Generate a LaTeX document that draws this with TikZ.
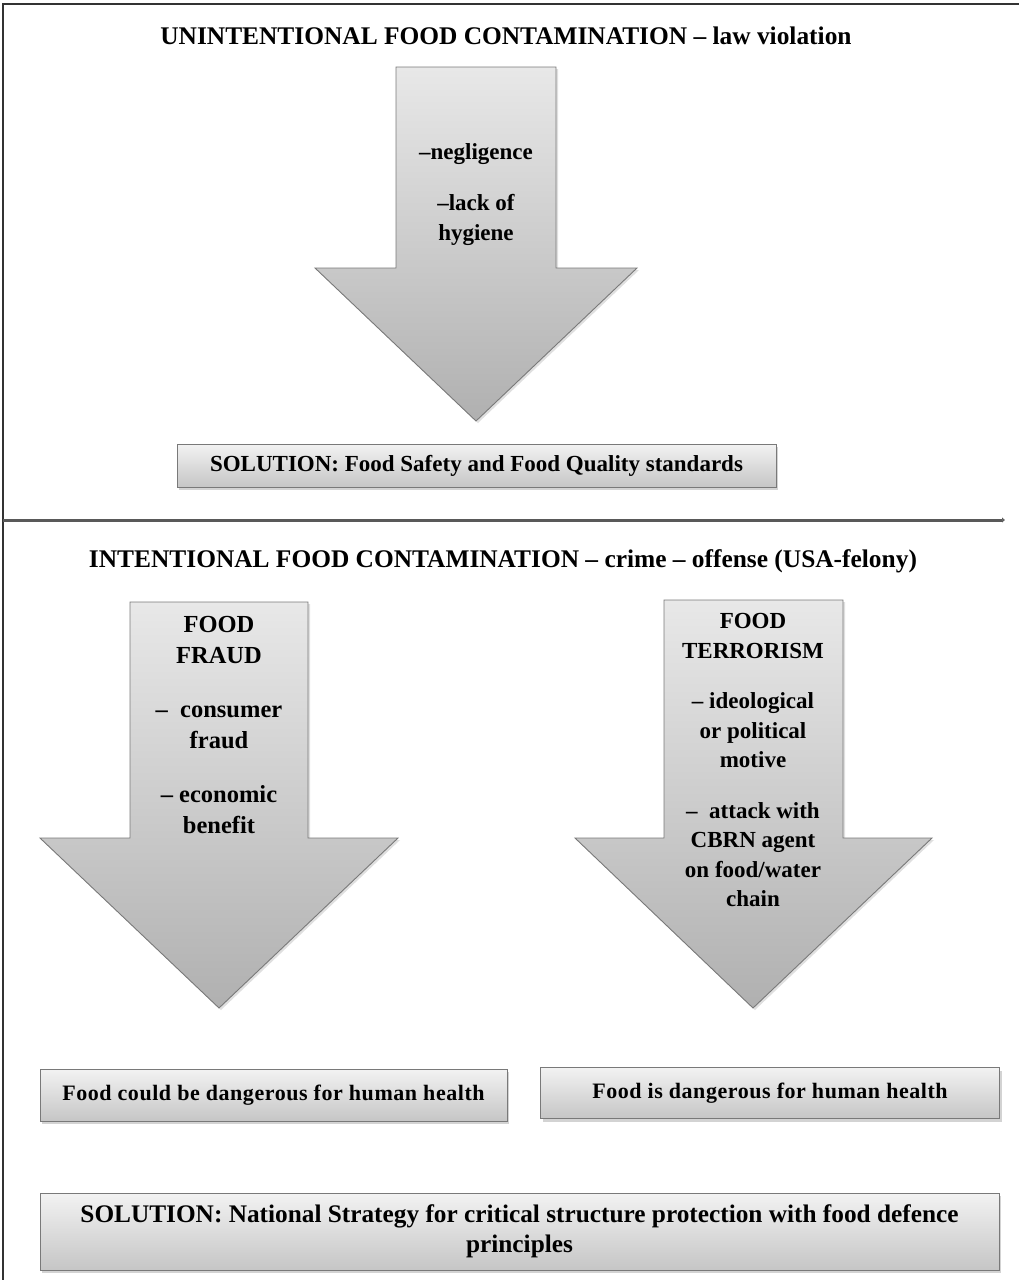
\documentclass[tikz,border=0pt]{standalone}
\usepackage{fontspec}
\setmainfont{Liberation Serif}
\usetikzlibrary{shadows,arrows.meta}
\begin{document}
\begin{tikzpicture}[x=1pt,y=-1pt,
    bigarrow/.style={draw=gray!95!black,line width=0.9pt,top color=gray!18,bottom color=gray!62,
      drop shadow={opacity=0.25,shadow xshift=2pt,shadow yshift=-2pt}},
    infobox/.style={draw=gray!95!black,line width=0.9pt,top color=gray!10,bottom color=gray!45,
      inner sep=0pt,align=center,font=\bfseries\fontsize{22}{30}\selectfont\addfontfeatures{LetterSpace=2.5},
      drop shadow={opacity=0.35,shadow xshift=2pt,shadow yshift=-3pt}},
    headline/.style={font=\bfseries\fontsize{25.4}{30}\selectfont},
    arrowtext/.style={align=center,font=\bfseries\fontsize{23}{30}\selectfont}]
  \useasboundingbox (0,0) rectangle (1019,1280);
  \draw[line width=1.5pt,black!80] (3,1280) -- (3,4) -- (1019,4);
  \coordinate (sepL) at (3,520);
  \coordinate (sepR) at (1005,520);
  \draw[line width=3pt,black!65,-{Latex[length=3pt,width=6pt]}] (sepL) -- (sepR);

  \node[headline] (unint) at (506,36) {UNINTENTIONAL FOOD CONTAMINATION – law violation};
  \draw[bigarrow] (396,67) -- (556,67) -- (556,268) -- (637,268) -- (476,421)
    -- (315,268) -- (396,268) -- cycle;
  \node[arrowtext] (negl) at (476,195) {–negligence\\[21pt]–lack of\\hygiene};
  \node[infobox,minimum width=599pt,minimum height=43pt,font=\bfseries\fontsize{23}{30}\selectfont]
    (safety) at (476.5,465.5) {SOLUTION: Food Safety and Food Quality standards};

  \node[headline] (inten) at (503,561) {INTENTIONAL FOOD CONTAMINATION – crime – offense (USA-felony)};
  \draw[bigarrow] (130,602) -- (308,602) -- (308,838) -- (398,838) -- (219,1008)
    -- (40,838) -- (130,838) -- cycle;
  \node[arrowtext,font=\bfseries\fontsize{24.5}{31}\selectfont] (fraud) at (219,725)
    {FOOD\\FRAUD\\[23pt]–\enspace consumer\\fraud\\[23pt]– economic\\benefit};
  \draw[bigarrow] (664,600) -- (843,600) -- (843,838) -- (932,838) -- (753,1008)
    -- (575,838) -- (664,838) -- cycle;
  \node[arrowtext,font=\bfseries\fontsize{23}{29.5}\selectfont] (terror) at (753,760)
    {FOOD\\TERRORISM\\[21pt]– ideological\\or political\\motive\\[21pt]–\enspace attack with\\CBRN agent\\on food/water\\chain};

  \node[infobox,minimum width=467pt,minimum height=52pt] (could) at (273.5,1095)
    {Food could be dangerous for human health};
  \node[infobox,minimum width=459pt,minimum height=51pt] (is) at (770,1093)
    {Food is dangerous for human health};
  \node[infobox,minimum width=959pt,minimum height=77pt,font=\bfseries\fontsize{25.3}{30}\selectfont]
    (strategy) at (519.5,1231.5)
    {SOLUTION: National Strategy for critical structure protection with food defence\\principles};
\end{tikzpicture}
\end{document}
